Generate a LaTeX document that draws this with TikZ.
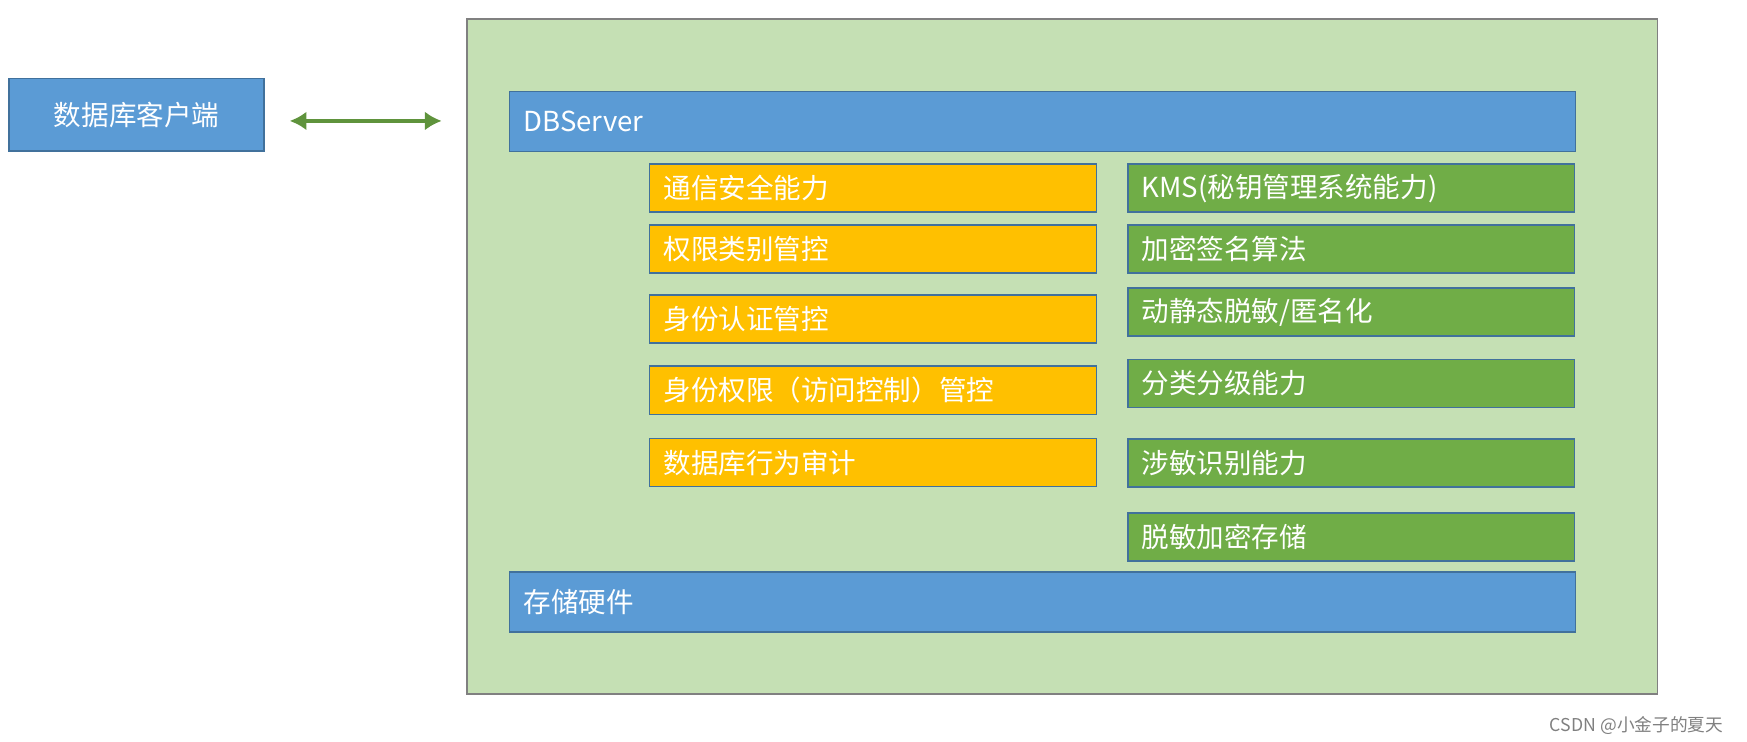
\documentclass[tikz,border=0pt]{standalone}
\usepackage{fontspec}
\setmainfont{Noto Sans CJK SC}
\usetikzlibrary{arrows.meta, positioning}
\definecolor{frameg}{HTML}{C5E0B4}
\definecolor{boxb}{HTML}{5B9BD5}
\definecolor{boxy}{HTML}{FFC000}
\definecolor{boxg}{HTML}{70AD47}
\definecolor{edgeb}{HTML}{41719C}
\tikzset{
  box/.style={rectangle, draw=edgeb, line width=0.8pt, text=white, align=left,
    inner xsep=0.25cm, font=\fontsize{14}{16}\selectfont},
  ybox/.style={box, fill=boxy, minimum height=0.86cm, text width=7.48cm},
  gbox/.style={box, fill=boxg, minimum height=0.86cm, text width=7.48cm},
  wbox/.style={box, fill=boxb, minimum height=1.07cm, text width=18.54cm},
}
\begin{document}
\begin{tikzpicture}[x=0.02cm,y=-0.02cm]
\useasboundingbox (0,0) rectangle (1560,662);
% outer frame
\node[rectangle, draw=gray, fill=frameg, line width=0.8pt, minimum width=21.26cm,
  minimum height=12.06cm] (frame) at (948.5,318.5) {};
\node[box, fill=boxb, minimum width=4.56cm, minimum height=1.3cm] (client) at (122,102.5) {数据库客户端};
\draw[{Latex[length=0.3cm,width=0.34cm]}-{Latex[length=0.3cm,width=0.34cm]}, draw=boxg!85!black,
  line width=2.2pt, shorten <=0.44cm, shorten >=0.44cm] (client.east |- 0,108) -- (frame.west |- 0,108);
% server layers
\node[wbox] (server) at (931,108.5) {DBServer};
\node[wbox] (storage) at (931,537.5) {存储硬件};
% left column
\node[ybox] (comm) at (779.5,168) {通信安全能力};
\node[ybox] (perm) at (779.5,222.5) {权限类别管控};
\node[ybox] (auth) at (779.5,285) {身份认证管控};
\node[ybox] (acl) at (779.5,348.5) {身份权限（访问控制）管控};
\node[ybox] (audit) at (779.5,413) {数据库行为审计};
% right column
\node[gbox] (kms) at (1206.5,168) {KMS(秘钥管理系统能力)};
\node[gbox] (sign) at (1206.5,222.5) {加密签名算法};
\node[gbox] (mask) at (1206.5,278.5) {动静态脱敏/匿名化};
\node[gbox] (level) at (1206.5,342.5) {分类分级能力};
\node[gbox] (detect) at (1206.5,413.5) {涉敏识别能力};
\node[gbox] (store) at (1206.5,479.5) {脱敏加密存储};
\node[text=gray, font=\fontsize{9}{10}\selectfont, anchor=east] (mark) at (1545,648) {CSDN @小金子的夏天};
\end{tikzpicture}
\end{document}
